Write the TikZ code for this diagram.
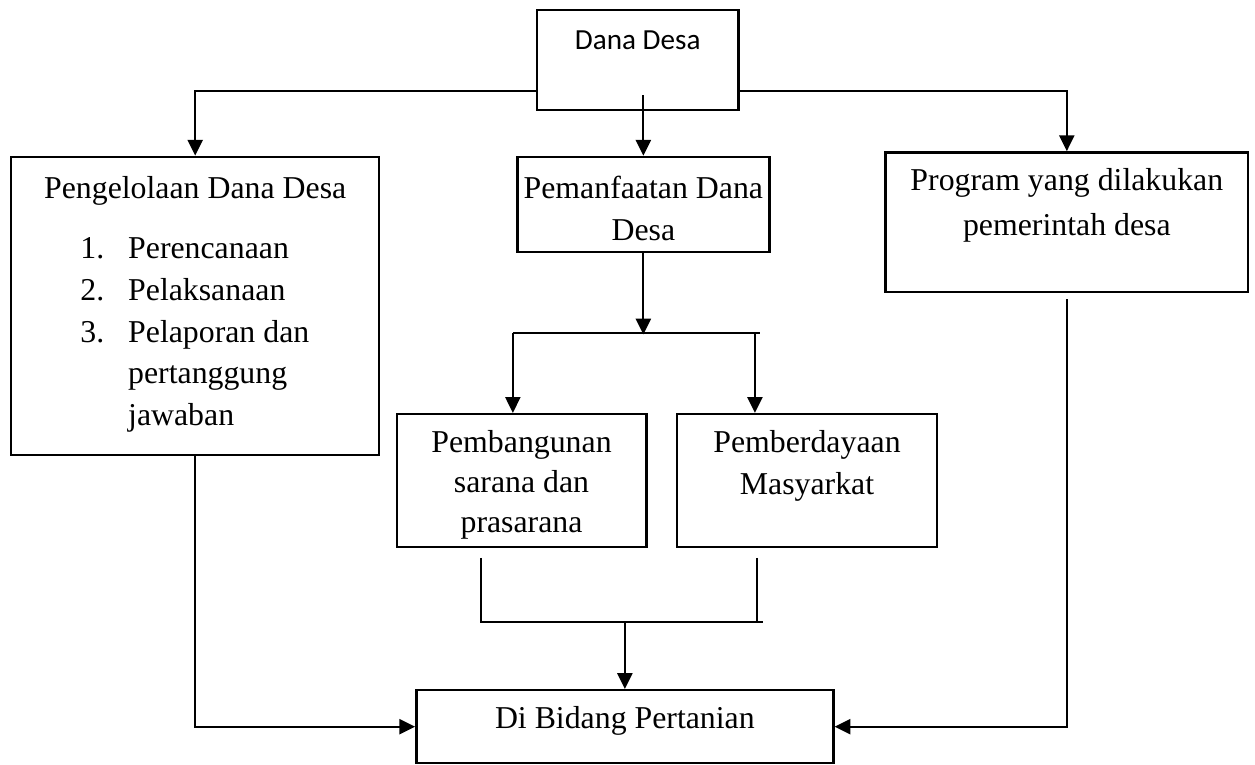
\documentclass[tikz,border=0pt]{standalone}
\usepackage{fontspec}
\setmainfont{Liberation Serif}
\newfontfamily\calibri{Carlito}
\usetikzlibrary{arrows.meta,calc,positioning}

\tikzset{
  kotak/.style={draw,line width=0.9pt,inner sep=0pt},
  tulis/.style={font=\fontsize{12}{15.8}\selectfont,align=center,inner sep=0pt,anchor=north},
  panah/.style={-{Triangle[length=2.1mm,width=2mm]},line width=0.85pt},
  garis/.style={line width=0.65pt}
}

\begin{document}
\begin{tikzpicture}

%% ── page size ───────────────────────────────────────────────────────────────
\useasboundingbox (0,0) rectangle (16.64,-10.14);

%% ════════════════════════════════════════════════════════════════════════════
%%  BOXES
%% ════════════════════════════════════════════════════════════════════════════
\node[kotak,minimum width=2.67cm,minimum height=1.33cm] (dana) at (8.455,-0.795) {};
\node[tulis,font=\calibri\fontsize{11}{13}\selectfont] (dana-teks)
  at ([yshift=-0.29cm]dana.north) {Dana Desa};

%% left column
\node[kotak,minimum width=4.88cm,minimum height=3.95cm] (kelola) at (2.588,-4.055) {};
\node[tulis] (kelola-teks) at ([yshift=-0.27cm]kelola.north) {Pengelolaan Dana Desa};
\node[tulis,align=left,anchor=north west] (kelola-daftar) at (1.06,-3.14)
  {\makebox[18pt][l]{1.}Perencanaan\\
   \makebox[18pt][l]{2.}Pelaksanaan\\
   \makebox[18pt][l]{3.}Pelaporan dan\\
   \hspace*{18pt}pertanggung\\
   \hspace*{18pt}jawaban};

%% middle column
\node[kotak,minimum width=3.34cm,minimum height=1.26cm] (manfaat) at (8.53,-2.71) {};
\node[tulis] (manfaat-teks) at ([yshift=-0.26cm]manfaat.north) {Pemanfaatan Dana\\Desa};

\node[kotak,minimum width=3.31cm,minimum height=1.76cm] (bangun) at (6.915,-6.37) {};
\node[tulis,font=\fontsize{12}{15}\selectfont] (bangun-teks) at ([yshift=-0.23cm]bangun.north)
  {Pembangunan\\sarana dan\\prasarana};

\node[kotak,minimum width=3.44cm,minimum height=1.76cm] (daya) at (10.70,-6.37) {};
\node[tulis] (daya-teks) at ([yshift=-0.23cm]daya.north) {Pemberdayaan\\Masyarkat};

%% right column
\node[kotak,minimum width=4.81cm,minimum height=1.85cm] (program) at (14.145,-2.945) {};
\node[tulis,font=\fontsize{12}{17}\selectfont] (program-teks) at ([yshift=-0.22cm]program.north)
  {Program yang dilakukan\\pemerintah desa};

%% bottom
\node[kotak,minimum width=5.53cm,minimum height=0.97cm] (tani) at (8.285,-9.635) {};
\node[tulis] (tani-teks) at ([yshift=-0.22cm]tani.north) {Di Bidang Pertanian};

%% ════════════════════════════════════════════════════════════════════════════
%%  CONNECTORS
%% ════════════════════════════════════════════════════════════════════════════
\draw[panah] ([yshift=0.27cm]dana.south west) -| (kelola.north);
\draw[panah] ([yshift=0.27cm]dana.south east) -| (program.north);
\draw[panah] ($(manfaat.north |- dana.south)+(0,0.21)$) -- (manfaat.north);

%% split below Pemanfaatan
\coordinate (cabang) at ([yshift=-1.08cm]manfaat.south);
\coordinate (cabangL) at (6.80,-4.42);
\coordinate (cabangR) at (10.01,-4.42);
\draw[panah] (manfaat.south) -- (cabang);
\draw[garis] (cabangL) -- ([xshift=0.07cm]cabangR);
\draw[panah] (cabangL) -- (cabangL |- bangun.north);
\draw[panah] (cabangR) -- (cabangR |- daya.north);

%% join above Di Bidang Pertanian
\coordinate (gabungL) at (6.38,-8.25);
\coordinate (gabungR) at (10.04,-8.25);
\draw[garis] ($(gabungL |- bangun.south)+(0,-0.13)$) -- (gabungL) -- ([xshift=0.08cm]gabungR);
\draw[garis] ($(gabungR |- daya.south)+(0,-0.13)$) -- (gabungR);
\draw[panah] (tani.north |- gabungL) -- (tani.north);

%% side returns
\draw[panah] (kelola.south) |- (tani.west);
\draw[panah] ([yshift=-0.08cm]program.south) |- (tani.east);

\end{tikzpicture}
\end{document}
